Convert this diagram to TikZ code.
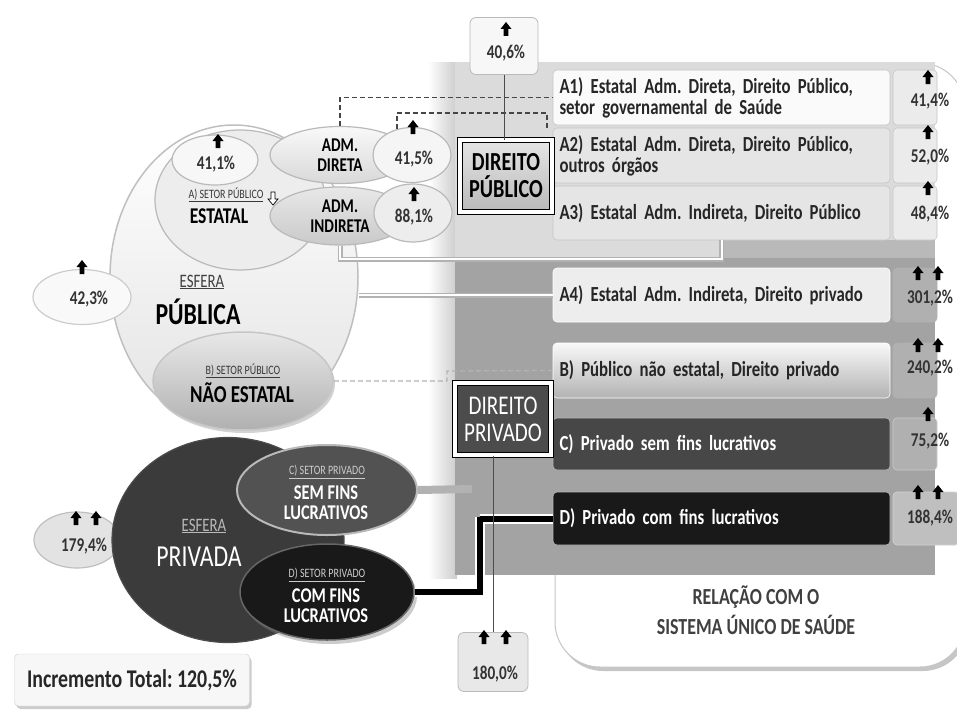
\documentclass[tikz,border=0pt]{standalone}
\usepackage{fontspec}
\setmainfont{Carlito}[FakeStretch=0.78]
\usetikzlibrary{shapes.geometric,shadows}
\newcommand\fsz[2]{\fontsize{#1}{#2}\selectfont}
\frenchspacing
\begin{document}
\begin{tikzpicture}[x=1pt,y=-1pt,
  ell/.style={ellipse, draw=gray!55, line width=1.2pt, inner sep=0pt, align=center},
  abox/.style={rectangle, rounded corners=4pt, draw=gray!45, line width=0.6pt, minimum width=337pt, inner sep=0pt, text width=324pt, align=left, font=\fsz{21.5}{21}\bfseries, text=black!85},
  pbox/.style={rectangle, rounded corners=4pt, draw=gray!45, line width=0.6pt, minimum width=44pt, inner sep=0pt},
  pct/.style={font=\fsz{19.5}{20}\bfseries, text=black!80, inner sep=0pt},
  uarr/.pic={\fill[black] (-2.3,0) -- (-2.3,-7) -- (-5.5,-7) -- (0,-14) -- (5.5,-7) -- (2.3,-7) -- (2.3,0) -- cycle;},
  darr/.pic={\draw[black, fill=white, line width=0.7pt] (-2,0) -- (-2,7) -- (-5,7) -- (0,13) -- (5,7) -- (2,7) -- (2,0) -- cycle;},
  dashline/.style={gray!55!black, line width=1.3pt, dash pattern=on 5pt off 3pt},
  dblgray/.style={preaction={draw, gray!60, line width=5pt}, white, line width=2pt},
  dblblack/.style={preaction={draw, white, line width=10pt}, black, line width=6pt},
  smalllab/.style={font=\fsz{12.8}{13}, text=gray!45!black, inner sep=0pt},
  bigdir/.style={draw=black, double=white, double distance=4pt, line width=1pt, inner sep=0pt, align=center, font=\fsz{26}{27}\bfseries}
]
\useasboundingbox (0,0) rectangle (957,709);

% ---------- relation box (behind panel) ----------
\draw[gray!45, line width=1pt, fill=white, rounded corners=45pt,
      drop shadow={shadow xshift=3pt, shadow yshift=-4pt, opacity=0.45}]
  (555,63) rectangle (965,667);
\node[font=\fsz{23}{30}\bfseries, text=black!75, align=center] (rel) at (756,610) {RELAÇÃO COM O\\SISTEMA ÚNICO DE SAÚDE};

% ---------- panel ----------
\shade[left color=white, right color=gray!40] (428,62) rectangle (457,578);
\fill[gray!28] (455,62) rectangle (935,258);
\fill[gray!55] (720,240) rectangle (935,262);
\fill[gray!72] (455,258) rectangle (935,575);

% ---------- right boxes ----------
\node[abox, fill=gray!4, minimum height=55pt] (a1) at (721.5,97.5) {A1) Estatal Adm. Direta, Direito Público,\\setor governamental de Saúde};
\node[abox, fill=gray!20, minimum height=55pt] (a2) at (721.5,155.5) {A2) Estatal Adm. Direta, Direito Público,\\outros órgãos};
\node[abox, fill=gray!20, minimum height=54pt] (a3) at (721.5,213) {A3) Estatal Adm. Indireta, Direito Público};
\node[abox, fill=gray!14, minimum height=54pt, draw=white] (a4) at (721.5,295) {A4) Estatal Adm. Indireta, Direito privado};
\node[abox, top color=gray!5, bottom color=gray!60, minimum height=55pt, draw=white] (b) at (721.5,370.5) {B) Público não estatal, Direito privado};
\node[abox, fill=black!72, minimum height=52pt, draw=gray!55, text=white] (c) at (721.5,444) {C) Privado sem fins lucrativos};
\node[abox, fill=black!90, minimum height=53pt, draw=gray!55, text=white] (d) at (721.5,518.5) {D) Privado com fins lucrativos};

% ---------- percent column ----------
\node[pbox, fill=gray!16, minimum height=55pt] (q1) at (915,97.5) {};
\node[pbox, fill=gray!16, minimum height=55pt] (q2) at (915,155.5) {};
\node[pbox, fill=gray!16, minimum height=54pt] (q3) at (915,213) {};
\node[pbox, fill=gray!62, draw=gray!62, minimum height=54pt] (q4) at (915,295) {};
\node[pbox, fill=gray!62, draw=gray!62, minimum height=55pt] (q5) at (915,370.5) {};
\node[pbox, fill=gray!62, draw=gray!40, minimum height=52pt] (q6) at (915,444) {};
\node[pbox, fill=gray!50, draw=gray!35, minimum height=53pt, minimum width=66pt] (q7) at (926,518.5) {};
\node[pct] (t1) at (930,101) {41,4\%};
\node[pct] (t2) at (930,157) {52,0\%};
\node[pct] (t3) at (930,214) {48,4\%};
\node[pct] (t4) at (930,298) {301,2\%};
\node[pct] (t5) at (930,368) {240,2\%};
\node[pct] (t6) at (930,441) {75,2\%};
\node[pct] (t7) at (930,518) {188,4\%};
\pic at (928,84) {uarr};
\pic at (928,139) {uarr};
\pic at (928,195) {uarr};
\pic at (918,280) {uarr}; \pic at (938,280) {uarr};
\pic at (918,352) {uarr}; \pic at (938,352) {uarr};
\pic at (928,421) {uarr};
\pic at (918,499) {uarr}; \pic at (938,499) {uarr};

% ---------- Direito boxes ----------
\node[bigdir, top color=gray!20, bottom color=gray!55, minimum width=92pt, minimum height=72pt] (dpub) at (506,176) {DIREITO\\PÚBLICO};
\node[bigdir, fill=black!70, text=white, font=\fsz{27}{27}, minimum width=96pt, minimum height=72pt] (dpriv) at (503,419) {DIREITO\\PRIVADO};

\node[draw=gray!55, line width=0.8pt, fill=gray!6, rounded corners=6pt, minimum width=68pt, minimum height=57pt] (b406) at (504,46) {};
\node[pct] (t406) at (506,53) {40,6\%};
\pic at (506,36) {uarr};

\node[draw=gray!55, line width=0.8pt, fill=gray!18, rounded corners=6pt, minimum width=70pt, minimum height=59pt] (b180) at (493,662) {};
\node[pct] (t180) at (495,674) {180,0\%};
\pic at (484,644) {uarr}; \pic at (506,644) {uarr};

% ---------- Incremento ----------
\node[draw=gray!40, fill=gray!6, rounded corners=4pt, minimum width=235pt, minimum height=52pt,
      drop shadow={shadow xshift=2pt, shadow yshift=-3pt, opacity=0.4},
      font=\fsz{25.5}{25}\bfseries, text=black!85] (inc) at (132,680) {Incremento Total: 120,5\%};

% ---------- esfera publica ----------
\node[ell, draw=gray!50, line width=1.5pt, top color=white, bottom color=gray!22, minimum width=248pt, minimum height=304pt] (esfpub) at (234,277) {};
\node[ell, fill=gray!14, minimum width=170pt, minimum height=140pt] (estatal) at (240,200) {};
\node[ell, fill=gray!6, minimum width=86pt, minimum height=50pt] (p411) at (215,160) {};
\node[pct] (t411) at (216,164) {41,1\%};
\pic at (218,148) {uarr};
\node[ell, top color=gray!5, bottom color=gray!30, minimum width=140pt, minimum height=57pt, font=\fsz{19.5}{20}\bfseries] (admd) at (340,155) {ADM.\\DIRETA};
\node[ell, fill=gray!8, minimum width=78pt, minimum height=55pt] (p415) at (412,155) {};
\node[pct] (t415) at (414,159) {41,5\%};
\pic at (413,134) {uarr};
\node[ell, top color=gray!18, bottom color=gray!42, minimum width=140pt, minimum height=58pt, font=\fsz{19.5}{20}\bfseries] (admi) at (340,216) {ADM.\\INDIRETA};
\node[ell, fill=gray!14, minimum width=78pt, minimum height=58pt] (p881) at (413,213) {};
\node[pct] (t881) at (414,217) {88,1\%};
\pic at (414,201) {uarr};
\node[smalllab] (lbla) at (226,195) {\underline{A) SETOR PÚBLICO}};
\pic at (273,192) {darr};
\node[font=\fsz{22.5}{22}\bfseries, inner sep=0pt] (estlbl) at (219,216) {ESTATAL};
\node[font=\fsz{19}{19}, text=gray!50!black, inner sep=0pt] (esf1) at (202,282) {\underline{ESFERA}};
\node[font=\fsz{30.5}{30}\bfseries, inner sep=0pt] (pub) at (198,312) {PÚBLICA};

\node[ell, draw=gray!40, fill=gray!5, minimum width=98pt, minimum height=55pt] (p423) at (82,297) {};
\node[pct] (t423) at (89,299) {42,3\%};
\pic at (82,274) {uarr};

\node[ell, draw=gray!45, line width=1.5pt, top color=gray!18, bottom color=gray!62, minimum width=180pt, minimum height=98pt,
      drop shadow={shadow xshift=2pt, shadow yshift=-3pt, opacity=0.35}] (naoest) at (243,381) {};
\node[smalllab] (lblb) at (243,371) {\underline{B) SETOR PÚBLICO}};
\node[font=\fsz{24.3}{24}\bfseries, inner sep=0pt] (naolbl) at (242,393) {NÃO ESTATAL};

% ---------- esfera privada ----------
\node[ell, draw=gray!50, fill=gray!22, minimum width=86pt, minimum height=56pt] (p1794) at (77,540) {};
\node[pct] (t1794) at (84,546) {179,4\%};
\pic at (76,525) {uarr}; \pic at (96,525) {uarr};
\node[ell, draw=black!70, fill=black!77, minimum width=232pt, minimum height=205pt] (esfpriv) at (228,540) {};
\node[font=\fsz{19}{19}, text=gray!55, inner sep=0pt] (esf2) at (204,526) {\underline{ESFERA}};
\node[font=\fsz{30.5}{30}, text=white, inner sep=0pt] (priv) at (199,557) {PRIVADA};

\node[ell, draw=gray!55, line width=2pt, fill=black!68, minimum width=180pt, minimum height=90pt] (sem) at (327,490) {};
\node[smalllab, text=gray!40] (lblc) at (327,472) {\underline{C) SETOR PRIVADO}};
\node[font=\fsz{21}{20}\bfseries, text=white, align=center, inner sep=0pt] (semlbl) at (326,503) {SEM FINS\\LUCRATIVOS};

\node[ell, draw=black!60, line width=1.5pt, fill=black!90, minimum width=174pt, minimum height=96pt,
      drop shadow={shadow xshift=3pt, shadow yshift=-4pt, opacity=0.4}] (com) at (327,592) {};
\node[smalllab, text=gray!40] (lbld) at (327,575) {\underline{D) SETOR PRIVADO}};
\node[font=\fsz{21}{20}\bfseries, text=white, align=center, inner sep=0pt] (comlbl) at (326,606) {COM FINS\\LUCRATIVOS};

% ---------- connectors ----------
\coordinate (dj) at (547,113);
\coordinate (bj) at (447,371);
\coordinate (cend) at (472,489);
\coordinate (djd) at (480,517);
\draw[dashline] (admd.north) |- (a1.west);
\draw[dashline] (p415.120) |- (dj) -- (dj |- a2.north);
\draw[dblgray] (admi.south) |- (a3.south |- 0,259) -- (a3.south);
\draw[dblgray] (a4.west -| esfpub.east) -- (a4.west);
\draw[dashline, gray!60] (naoest.east) -| (bj) -- (b.west);
\draw[gray!60, line width=8pt] (sem.east) -- (cend);
\draw[dblblack] (com.east) -| (djd) |- (d.west);
\draw[black!70, line width=0.8pt] (b406.south) -- (b406.south |- dpub.north);
\draw[black!70, line width=0.8pt] (dpriv.south -| b180.north) -- (b180.north);
\end{tikzpicture}
\end{document}
